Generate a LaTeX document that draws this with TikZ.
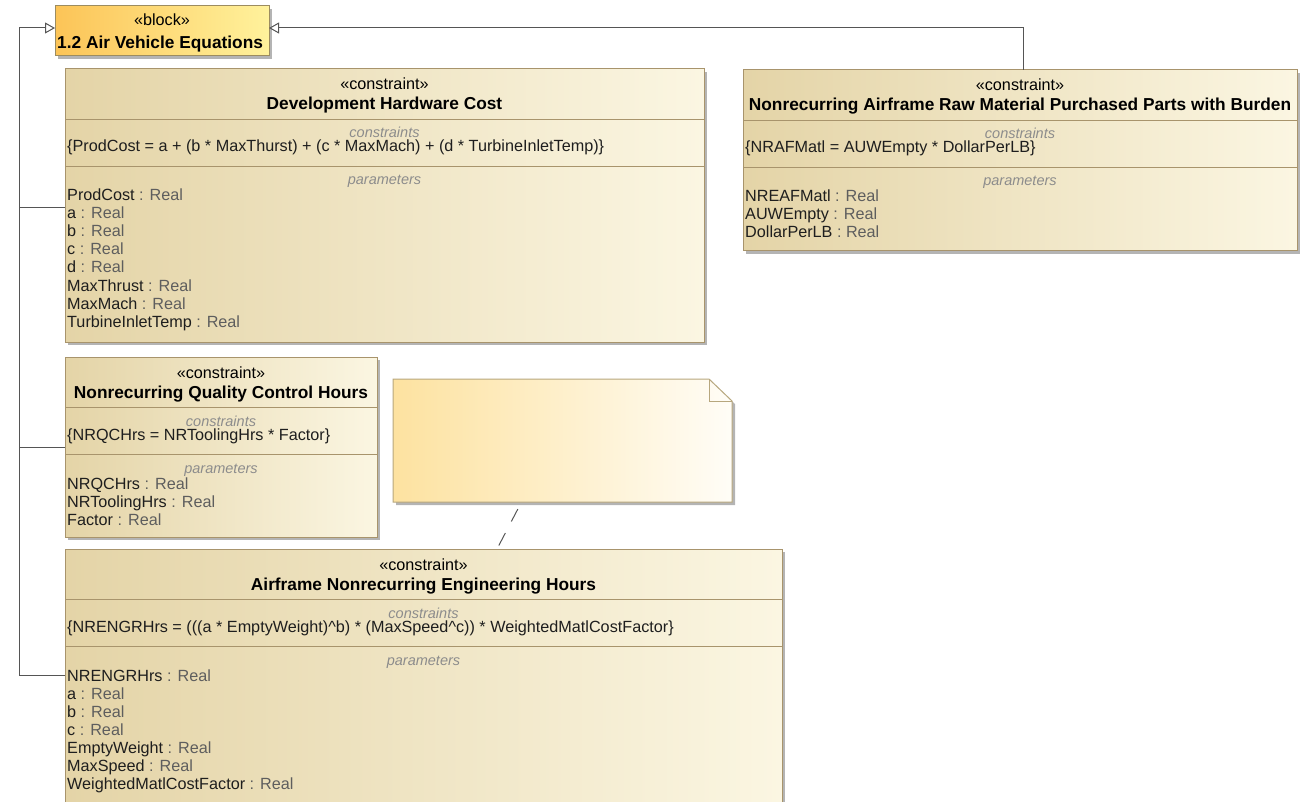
\documentclass[tikz,border=0pt]{standalone}
\usepackage{fontspec}
\setmainfont{Liberation Sans}
\usetikzlibrary{arrows.meta,shadows,calc}

\definecolor{tanL}{HTML}{E4D4A7}
\definecolor{tanR}{HTML}{FBF6E2}
\definecolor{boxline}{HTML}{A8946C}
\definecolor{shadowgray}{HTML}{B4B4B4}
\definecolor{blkL}{HTML}{FCC457}
\definecolor{blkR}{HTML}{FFF29C}
\definecolor{blkline}{HTML}{9C8C60}
\definecolor{noteL}{HTML}{FDE2A0}
\definecolor{noteR}{HTML}{FFFDF7}
\definecolor{noteline}{HTML}{B7A77E}
\definecolor{linegray}{HTML}{555555}
\definecolor{cmpgray}{HTML}{8C8C8C}
\definecolor{realgray}{HTML}{5E5E5E}
\definecolor{nametext}{HTML}{1E1E1E}

% constraint block: name, left, top, right, bottom, title, formula, parameter names
\newcommand{\cstrbox}[8]{%
  \node[cbox, minimum width={(#4)-(#2)}, minimum height={(#5)-(#3)}] (#1) at (#2,#3) {};
  \draw[sepline] (#2,#3+50) -- (#4,#3+50);
  \draw[sepline] (#2,#3+97) -- (#4,#3+97);
  \node[stereo] (#1-st) at ({(#2+#4)/2},#3+21) {«constraint»};
  \node[ttl] (#1-tt) at ({(#2+#4)/2},#3+41) {#6};
  \node[cmp] (#1-cl) at ({(#2+#4)/2},#3+69) {constraints};
  \node[txt] (#1-fx) at (#2+2,#3+83) {#7};
  \node[cmp] (#1-pl) at ({(#2+#4)/2},#3+116) {parameters};
  \foreach \p [count=\i from 0] in {#8}
    {\node[txt] (#1-p\i) at (#2+2,#3+132+18*\i) {\p\ \textcolor{realgray}{: Real}};}
}

\begin{document}
\begin{tikzpicture}[x=1pt,y=-1pt,
  cbox/.style={draw=boxline, line width=1pt, left color=tanL, right color=tanR,
    drop shadow={shadow xshift=3pt, shadow yshift=-3pt, fill=shadowgray, opacity=1},
    inner sep=0pt, outer sep=0pt, anchor=north west},
  blkbox/.style={draw=blkline, line width=1pt, left color=blkL, right color=blkR,
    drop shadow={shadow xshift=3pt, shadow yshift=-3pt, fill=shadowgray, opacity=1},
    inner sep=0pt, outer sep=0pt, anchor=north west},
  sepline/.style={draw=boxline, line width=0.9pt},
  stereo/.style={font=\fontsize{16.2}{18}\selectfont, anchor=base, inner sep=0pt},
  ttl/.style={font=\fontsize{17.3}{20}\selectfont\bfseries, anchor=base, inner sep=0pt},
  cmp/.style={font=\fontsize{14.5}{16}\selectfont\itshape, text=cmpgray, anchor=base, inner sep=0pt},
  txt/.style={font=\fontsize{16.2}{18}\selectfont, text=nametext, anchor=base west, inner sep=0pt},
  conn/.style={draw=linegray, line width=1pt},
  gen/.style={conn, -{Triangle[length=10pt, width=11pt, fill=white]}},
  tracelink/.style={conn, dash pattern=on 14pt off 13pt, dash phase=19pt}
]
\path[use as bounding box] (0,0) rectangle (1301,802);
\clip (0,0) rectangle (1301,802);

% owning block
\node[blkbox, minimum width=214, minimum height=50] (blk) at (55,6) {};
\node[stereo] (blk-st) at (162,26) {«block»};
\node[ttl, anchor=base west] (blk-tt) at (57,49) {1.2 Air Vehicle Equations};

% constraint blocks
\cstrbox{dhc}{65}{69}{704}{342}{Development Hardware Cost}
  {\{ProdCost = a + (b * MaxThurst) + (c * MaxMach) + (d * TurbineInletTemp)\}}
  {ProdCost, a, b, c, d, MaxThrust, MaxMach, TurbineInletTemp}
\cstrbox{narm}{743}{70}{1297}{251}{Nonrecurring Airframe Raw Material Purchased Parts with Burden}
  {\{NRAFMatl = AUWEmpty * DollarPerLB\}}
  {NREAFMatl, AUWEmpty, DollarPerLB}
\cstrbox{nqc}{65}{357}{377}{537}{Nonrecurring Quality Control Hours}
  {\{NRQCHrs = NRToolingHrs * Factor\}}
  {NRQCHrs, NRToolingHrs, Factor}
\cstrbox{aneh}{65}{549}{782}{820}{Airframe Nonrecurring Engineering Hours}
  {\{NRENGRHrs = (((a * EmptyWeight)\textasciicircum b) * (MaxSpeed\textasciicircum c)) * WeightedMatlCostFactor\}}
  {NRENGRHrs, a, b, c, EmptyWeight, MaxSpeed, WeightedMatlCostFactor}

% comment note with folded corner
\node[inner sep=0pt, outer sep=0pt, minimum width=339, minimum height=123, anchor=north west] (note) at (393,379) {};
\path[draw=noteline, line width=1pt, left color=noteL, right color=noteR,
      drop shadow={shadow xshift=3pt, shadow yshift=-3pt, fill=shadowgray, opacity=1}]
  (note.north west) -- ([xshift=-23pt]note.north east) -- ([yshift=-22pt]note.north east)
  -- (note.south east) -- (note.south west) -- cycle;
\draw[draw=noteline, line width=1pt] ([xshift=-23pt]note.north east) |- ([yshift=-22pt]note.north east);

% connectors
\coordinate (trunk) at (19,28);
\draw[gen] ([yshift=9.5pt]aneh.west) -| (trunk) -- ([yshift=3pt]blk.west);
\draw[conn] ([yshift=-2.5pt]dhc.west) -| (trunk);
\draw[conn] (nqc.west) -| (trunk);
\draw[gen] ([xshift=3.5pt]narm.north) |- ([yshift=3pt]blk.east);
\draw[tracelink] ([xshift=-41pt]note.south) -- ([xshift=73.5pt]aneh.north);
\end{tikzpicture}
\end{document}
